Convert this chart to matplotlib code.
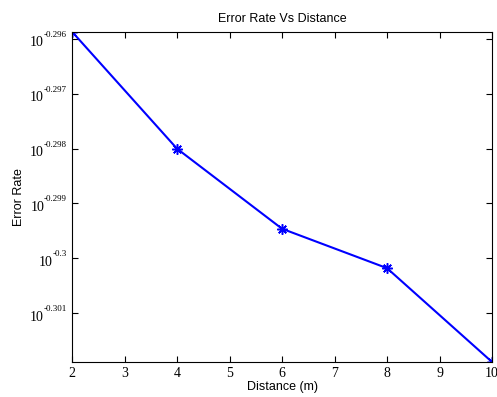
import numpy as np
import matplotlib.pyplot as plt
from matplotlib.ticker import FixedLocator, NullFormatter, NullLocator

# 거리별 오류율
distance = [2, 4, 6, 8, 10]
error_rate = [0.50598, 0.50350, 0.50181, 0.50098, 0.49901]
ytick_exp = [-0.296, -0.297, -0.298, -0.299, -0.3, -0.301]
xticks = [2, 3, 4, 5, 6, 7, 8, 9, 10]

fig = plt.figure(figsize=(4.97, 3.97), dpi=100)
ax = fig.add_axes([0.1449, 0.0882, 0.8451, 0.832])

ax.plot(distance, error_rate, color='blue', lw=1.5,
        marker=(8, 2, 0), ms=7.5, mew=1.1)

ax.set_yscale('log')
ax.set_xlim(min(distance), max(distance))
ax.set_ylim(min(error_rate), max(error_rate))
ax.xaxis.set_major_locator(FixedLocator(xticks))
ax.yaxis.set_major_locator(FixedLocator([10 ** e for e in ytick_exp]))
ax.yaxis.set_major_formatter(NullFormatter())
ax.yaxis.set_minor_locator(NullLocator())

ax.tick_params(direction='in', top=True, right=True, length=4, width=0.8)
for lab in ax.get_xticklabels():
    lab.set_fontfamily('Liberation Serif')
    lab.set_fontsize(10)

# MATLAB 스타일 y 눈금 라벨 : 10 + 작은 지수
for e in ytick_exp:
    ex = ax.annotate(f'{e:g}', xy=(0, 10 ** e), xycoords=('axes fraction', 'data'),
                     xytext=(-5, 0), textcoords='offset pixels',
                     ha='right', va='bottom', fontsize=6.5, family='Liberation Serif')
    ax.annotate('10', xy=(0, 0), xycoords=ex, xytext=(0, -4), textcoords='offset pixels',
                ha='right', va='center', fontsize=10, family='Liberation Serif')

ax.set_title('Error Rate Vs Distance', fontsize=9, family='Liberation Sans', pad=7)
ax.set_xlabel('Distance (m)', fontsize=9, family='Liberation Sans', labelpad=1)
ax.set_ylabel('Error Rate', fontsize=9, family='Liberation Sans')
ax.yaxis.set_label_coords(-0.112, 0.5)

plt.savefig('out.png', dpi=100)
